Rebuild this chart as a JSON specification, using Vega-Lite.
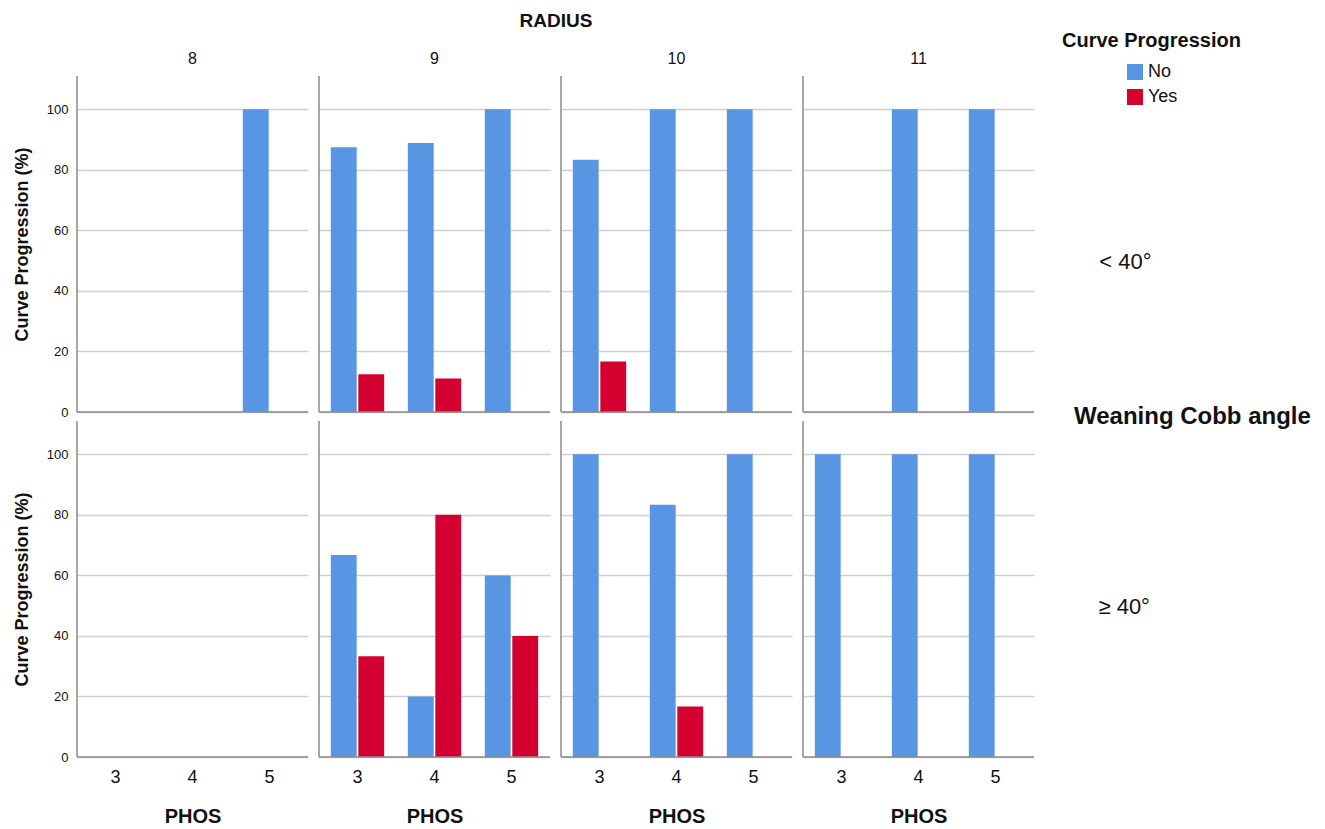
{
  "$schema": "https://vega.github.io/schema/vega-lite/v6.json",
  "background": "white",
  "padding": {"left": 13, "top": 12, "right": 5, "bottom": 0},
  "data": {
    "values": [
      {"cobb": "< 40°", "radius": 8, "phos": 3, "prog": "No", "pct": 0},
      {"cobb": "< 40°", "radius": 8, "phos": 3, "prog": "Yes", "pct": 0},
      {"cobb": "< 40°", "radius": 8, "phos": 4, "prog": "No", "pct": 0},
      {"cobb": "< 40°", "radius": 8, "phos": 4, "prog": "Yes", "pct": 0},
      {"cobb": "< 40°", "radius": 8, "phos": 5, "prog": "No", "pct": 100},
      {"cobb": "< 40°", "radius": 8, "phos": 5, "prog": "Yes", "pct": 0},
      {"cobb": "< 40°", "radius": 9, "phos": 3, "prog": "No", "pct": 87.5},
      {"cobb": "< 40°", "radius": 9, "phos": 3, "prog": "Yes", "pct": 12.5},
      {"cobb": "< 40°", "radius": 9, "phos": 4, "prog": "No", "pct": 88.9},
      {"cobb": "< 40°", "radius": 9, "phos": 4, "prog": "Yes", "pct": 11.1},
      {"cobb": "< 40°", "radius": 9, "phos": 5, "prog": "No", "pct": 100},
      {"cobb": "< 40°", "radius": 9, "phos": 5, "prog": "Yes", "pct": 0},
      {"cobb": "< 40°", "radius": 10, "phos": 3, "prog": "No", "pct": 83.3},
      {"cobb": "< 40°", "radius": 10, "phos": 3, "prog": "Yes", "pct": 16.7},
      {"cobb": "< 40°", "radius": 10, "phos": 4, "prog": "No", "pct": 100},
      {"cobb": "< 40°", "radius": 10, "phos": 4, "prog": "Yes", "pct": 0},
      {"cobb": "< 40°", "radius": 10, "phos": 5, "prog": "No", "pct": 100},
      {"cobb": "< 40°", "radius": 10, "phos": 5, "prog": "Yes", "pct": 0},
      {"cobb": "< 40°", "radius": 11, "phos": 3, "prog": "No", "pct": 0},
      {"cobb": "< 40°", "radius": 11, "phos": 3, "prog": "Yes", "pct": 0},
      {"cobb": "< 40°", "radius": 11, "phos": 4, "prog": "No", "pct": 100},
      {"cobb": "< 40°", "radius": 11, "phos": 4, "prog": "Yes", "pct": 0},
      {"cobb": "< 40°", "radius": 11, "phos": 5, "prog": "No", "pct": 100},
      {"cobb": "< 40°", "radius": 11, "phos": 5, "prog": "Yes", "pct": 0},
      {"cobb": "≥ 40°", "radius": 8, "phos": 3, "prog": "No", "pct": 0},
      {"cobb": "≥ 40°", "radius": 8, "phos": 3, "prog": "Yes", "pct": 0},
      {"cobb": "≥ 40°", "radius": 8, "phos": 4, "prog": "No", "pct": 0},
      {"cobb": "≥ 40°", "radius": 8, "phos": 4, "prog": "Yes", "pct": 0},
      {"cobb": "≥ 40°", "radius": 8, "phos": 5, "prog": "No", "pct": 0},
      {"cobb": "≥ 40°", "radius": 8, "phos": 5, "prog": "Yes", "pct": 0},
      {"cobb": "≥ 40°", "radius": 9, "phos": 3, "prog": "No", "pct": 66.7},
      {"cobb": "≥ 40°", "radius": 9, "phos": 3, "prog": "Yes", "pct": 33.3},
      {"cobb": "≥ 40°", "radius": 9, "phos": 4, "prog": "No", "pct": 20},
      {"cobb": "≥ 40°", "radius": 9, "phos": 4, "prog": "Yes", "pct": 80},
      {"cobb": "≥ 40°", "radius": 9, "phos": 5, "prog": "No", "pct": 60},
      {"cobb": "≥ 40°", "radius": 9, "phos": 5, "prog": "Yes", "pct": 40},
      {"cobb": "≥ 40°", "radius": 10, "phos": 3, "prog": "No", "pct": 100},
      {"cobb": "≥ 40°", "radius": 10, "phos": 3, "prog": "Yes", "pct": 0},
      {"cobb": "≥ 40°", "radius": 10, "phos": 4, "prog": "No", "pct": 83.3},
      {"cobb": "≥ 40°", "radius": 10, "phos": 4, "prog": "Yes", "pct": 16.7},
      {"cobb": "≥ 40°", "radius": 10, "phos": 5, "prog": "No", "pct": 100},
      {"cobb": "≥ 40°", "radius": 10, "phos": 5, "prog": "Yes", "pct": 0},
      {"cobb": "≥ 40°", "radius": 11, "phos": 3, "prog": "No", "pct": 100},
      {"cobb": "≥ 40°", "radius": 11, "phos": 3, "prog": "Yes", "pct": 0},
      {"cobb": "≥ 40°", "radius": 11, "phos": 4, "prog": "No", "pct": 100},
      {"cobb": "≥ 40°", "radius": 11, "phos": 4, "prog": "Yes", "pct": 0},
      {"cobb": "≥ 40°", "radius": 11, "phos": 5, "prog": "No", "pct": 100},
      {"cobb": "≥ 40°", "radius": 11, "phos": 5, "prog": "Yes", "pct": 0}
    ]
  },
  "facet": {
    "column": {
      "field": "radius", "type": "ordinal", "title": "RADIUS",
      "header": {"labelFontSize": 16, "titleFontSize": 19, "titleFontWeight": "bold", "labelPadding": 8, "titlePadding": 10}
    },
    "row": {
      "field": "cobb", "type": "nominal", "sort": ["< 40°", "≥ 40°"], "title": "Weaning Cobb angle",
      "header": {
        "labelOrient": "right", "titleOrient": "right", "labelAngle": 0, "titleAngle": 0,
        "labelAlign": "left", "labelFontSize": 22, "labelPadding": 12,
        "labelExpr": "['', datum.label]", "labelLineHeight": 18,
        "titleFontSize": 24, "titleFontWeight": "bold", "titlePadding": -88
      }
    }
  },
  "spacing": {"row": 7, "column": 9},
  "spec": {
    "width": 231,
    "height": 336,
    "layer": [
      {
        "mark": {"type": "bar"},
        "encoding": {
          "x": {
            "field": "phos", "type": "ordinal", "title": "PHOS",
            "scale": {"domain": [3, 4, 5], "paddingInner": 0, "paddingOuter": 0},
            "axis": {"labelAngle": 0, "domain": false, "ticks": false, "labelFontSize": 18, "labelPadding": 10, "titleFontSize": 20, "titleFontWeight": "bold", "titlePadding": 20}
          },
          "xOffset": {
            "field": "prog", "type": "nominal",
            "scale": {"paddingInner": 0.06, "paddingOuter": 0.43}
          },
          "y": {
            "field": "pct", "type": "quantitative", "title": "Curve Progression (%)",
            "scale": {"domain": [0, 111], "nice": false},
            "axis": {"values": [0, 20, 40, 60, 80, 100], "domain": false, "ticks": false, "labelFontSize": 13, "labelPadding": 8, "titleFontSize": 18, "titleFontWeight": "bold", "titlePadding": 15, "gridColor": "#cfcfcf", "gridWidth": 1.5}
          },
          "color": {
            "field": "prog", "type": "nominal", "title": "Curve Progression",
            "scale": {"domain": ["No", "Yes"], "range": ["#5896E4", "#D4002F"]},
            "legend": {
              "orient": "none", "legendX": 985, "legendY": -45,
              "titleFontSize": 20, "titleFontWeight": "bold", "labelFontSize": 18,
              "symbolType": "square", "symbolSize": 256, "symbolOffset": 64, "symbolStrokeWidth": 0,
              "rowPadding": 7, "titlePadding": 12, "labelOffset": 4
            }
          }
        }
      },
      {
        "transform": [{"filter": "datum.phos === 3 && datum.prog === 'No'"}],
        "mark": {"type": "rule", "color": "#8a8a8a", "strokeWidth": 1.5},
        "encoding": {"y": {"datum": 0, "type": "quantitative"}}
      },
      {
        "transform": [{"filter": "datum.phos === 3 && datum.prog === 'No'"}],
        "mark": {"type": "rule", "color": "#8a8a8a", "strokeWidth": 1.5},
        "encoding": {"x": {"datum": 3, "type": "ordinal", "bandPosition": 0}}
      }
    ]
  },
  "config": {
    "font": "Liberation Sans",
    "view": {"stroke": null},
    "axis": {"labelColor": "#111", "titleColor": "#111"},
    "header": {"labelColor": "#111", "titleColor": "#111"},
    "headerColumn": {"labelFontSize": 16},
    "legend": {"labelColor": "#111", "titleColor": "#111"}
  }
}
